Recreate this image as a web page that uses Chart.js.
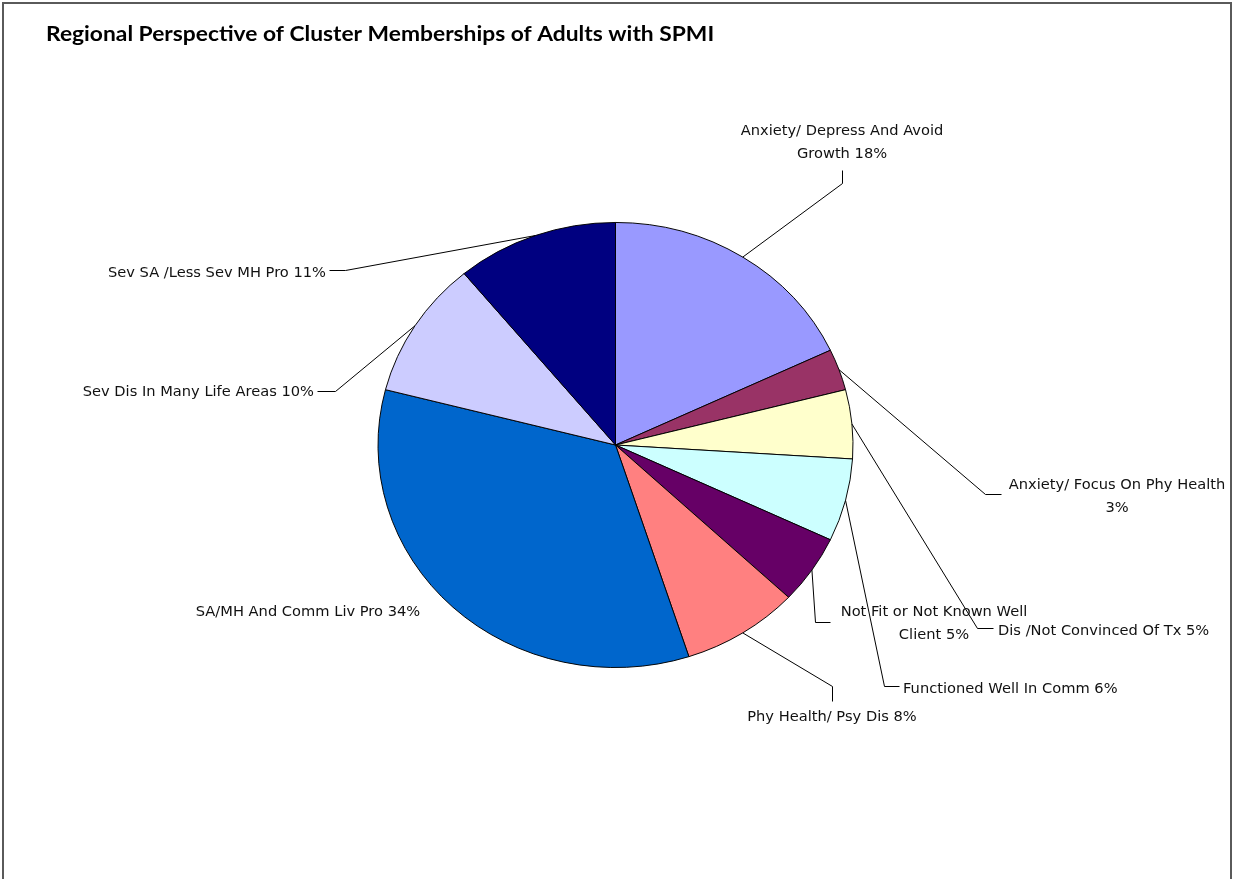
<!DOCTYPE html>
<html>
<head>
<meta charset="utf-8">
<title>Regional Perspective of Cluster Memberships of Adults with SPMI</title>
<script src="https://cdn.jsdelivr.net/npm/chart.js@4/dist/chart.umd.min.js"></script>
<style>
  html, body { margin: 0; padding: 0; background: #fff; }
  #wrap { position: relative; width: 1233px; height: 879px; }
</style>
</head>
<body>
<div id="wrap"><canvas id="clusterPie" width="1233" height="879"></canvas></div>
<script>
// cluster membership shares (%), clockwise from 12 o'clock
const clusters = [
  'Anxiety/ Depress And Avoid Growth',
  'Anxiety/ Focus On Phy Health',
  'Dis /Not Convinced Of Tx',
  'Functioned Well In Comm',
  'Not Fit or Not Known Well Client',
  'Phy Health/ Psy Dis',
  'SA/MH And Comm Liv Pro',
  'Sev Dis In Many Life Areas',
  'Sev SA /Less Sev MH Pro'
];
const shares = [18, 3, 5, 6, 5, 8, 34, 10, 11];
const sliceColors = ['#9999ff', '#993366', '#ffffcc', '#ccffff', '#660066', '#ff8080', '#0066cc', '#ccccff', '#000080'];

// where each label sits, with the bend points of its leader line
const labelLayout = [
  { lines: ['Anxiety/ Depress And Avoid', 'Growth 18%'], x: 842, y: 131, align: 'center', bend: [[842, 183], [842, 170]] },
  { lines: ['Anxiety/ Focus On Phy Health', '3%'], x: 1117, y: 485, align: 'center', bend: [[985, 494], [1001, 494]] },
  { lines: ['Dis /Not Convinced Of Tx 5%'], x: 998, y: 631, align: 'left', bend: [[977, 628], [993, 628]] },
  { lines: ['Functioned Well In Comm 6%'], x: 903, y: 689, align: 'left', bend: [[884, 686], [899, 686]] },
  { lines: ['Not Fit or Not Known Well', 'Client 5%'], x: 934, y: 612, align: 'center', bend: [[815, 622], [830, 622]] },
  { lines: ['Phy Health/ Psy Dis 8%'], x: 832, y: 717, align: 'center', bend: [[832, 686], [832, 701]] },
  { lines: ['SA/MH And Comm Liv Pro 34%'], x: 308, y: 612, align: 'center', bend: null },
  { lines: ['Sev Dis In Many Life Areas 10%'], x: 314, y: 392, align: 'right', bend: [[335, 391], [317, 391]] },
  { lines: ['Sev SA /Less Sev MH Pro 11%'], x: 326, y: 273, align: 'right', bend: [[345, 270], [329, 270]] }
];

// the whole chart is a little wider than tall
const squash = 0.937;
const stretchX = 1.085;

function wideText(ctx, text, x, y, align) {
  const w = ctx.measureText(text).width * stretchX;
  let left = x;
  if (align === 'center') left = x - w / 2;
  else if (align === 'right') left = x - w;
  ctx.save();
  ctx.translate(left, y);
  ctx.scale(stretchX, 1);
  ctx.textAlign = 'left';
  ctx.fillText(text, 0, 0);
  ctx.restore();
}

const frameAndLabels = {
  id: 'frameAndLabels',
  beforeDraw(chart) {
    const ctx = chart.ctx;
    ctx.save();
    ctx.fillStyle = '#fff';
    ctx.fillRect(0, 0, chart.width, chart.height);
    ctx.strokeStyle = '#5a5a5a';
    ctx.lineWidth = 2;
    ctx.beginPath();
    ctx.moveTo(3, chart.height);
    ctx.lineTo(3, 3);
    ctx.lineTo(1231, 3);
    ctx.lineTo(1231, chart.height);
    ctx.stroke();

    ctx.fillStyle = '#000';
    ctx.font = 'bold 21px Lato';
    ctx.textBaseline = 'middle';
    wideText(ctx, 'Regional Perspective of Cluster Memberships of Adults with SPMI', 46, 34, 'left');
    ctx.restore();
  },
  beforeDatasetsDraw(chart) {
    const arc = chart.getDatasetMeta(0).data[0];
    const ctx = chart.ctx;
    ctx.save();
    ctx.translate(arc.x, arc.y);
    ctx.scale(1, squash);
    ctx.translate(-arc.x, -arc.y);
  },
  afterDatasetsDraw(chart) {
    const ctx = chart.ctx;
    ctx.restore();
    const arcs = chart.getDatasetMeta(0).data;
    ctx.save();
    ctx.strokeStyle = '#000';
    ctx.lineWidth = 1;
    ctx.fillStyle = '#111';
    ctx.font = '13.5px "DejaVu Sans"';
    ctx.textBaseline = 'middle';
    labelLayout.forEach((lab, i) => {
      const arc = arcs[i];
      if (lab.bend) {
        const mid = (arc.startAngle + arc.endAngle) / 2;
        const sx = arc.x + Math.cos(mid) * arc.outerRadius;
        const sy = arc.y + Math.sin(mid) * arc.outerRadius * squash;
        ctx.beginPath();
        ctx.moveTo(sx, sy);
        lab.bend.forEach(p => ctx.lineTo(p[0] + 0.5, p[1] + 0.5));
        ctx.stroke();
      }
      lab.lines.forEach((t, k) => wideText(ctx, t, lab.x, lab.y + k * 23, lab.align));
    });
    ctx.restore();
  }
};

new Chart(document.getElementById('clusterPie'), {
  type: 'pie',
  data: {
    labels: clusters,
    datasets: [{
      data: shares,
      backgroundColor: sliceColors,
      borderColor: '#000',
      borderWidth: 1
    }]
  },
  options: {
    responsive: false,
    animation: false,
    layout: { padding: { top: 207, bottom: 196, left: 0, right: 2 } },
    plugins: {
      legend: { display: false },
      tooltip: { enabled: false },
      title: { display: false }
    }
  },
  plugins: [frameAndLabels]
});
</script>
</body>
</html>
